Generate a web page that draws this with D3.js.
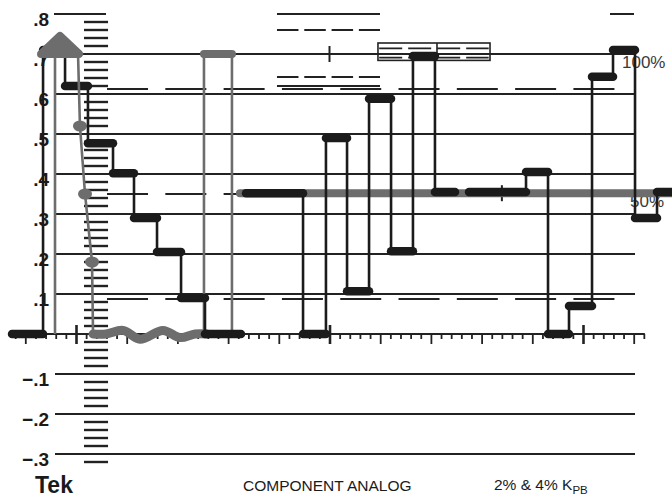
<!DOCTYPE html>
<html>
<head>
<meta charset="utf-8">
<script src="https://d3js.org/d3.v7.min.js"></script>
<style>
  body { margin: 0; background: #fff; }
  svg { display: block; font-family: "Liberation Sans", Arial, Helvetica, sans-serif; }
</style>
</head>
<body>
<div id="chart"></div>
<script>
    // graticule values (volts)
    const gridValues = [-0.3, -0.2, -0.1, 0.1, 0.2, 0.3, 0.4, 0.5, 0.6, 0.7];
    const labelValues = [-0.3, -0.2, -0.1, 0.1, 0.2, 0.3, 0.4, 0.5, 0.6, 0.7, 0.8];
    const dashedLevels = [0.6125, 0.35, 0.0875];
    const topSolid = [0.8, 0.62];
    const topDashed = [0.76, 0.6425];

    // black trace: [time, level], level null ends a run
    const blackSteps = [
        [-6.31, 0], [-3.25, 0.71], [-1.08, 0.62], [1.18, 0.477], [3.65, 0.402],
        [5.72, 0.29], [7.99, 0.205], [10.36, 0.09], [12.72, 0], [16.27, null],
        [16.77, 0.352], [22.39, 0], [24.65, 0.49], [26.73, 0.107], [28.9, 0.588],
        [31.07, 0.207], [33.23, 0.695], [35.4, 0.355], [37.38, null],
        [38.76, 0.355], [44.38, 0.405], [46.55, 0], [48.62, 0.07], [50.89, 0.643],
        [52.96, 0.71], [55.13, 0.29], [57.3, 0.355], [59.6, null]
    ];

    // gray trace pieces
    const grayPeak = [[-3.45, 0.70], [-1.58, 0.745], [0.3, 0.70]];
    const grayDrop = [[0.2, 0.70], [0.39, 0.52], [0.89, 0.35], [1.58, 0.18], [1.68, 0]];
    const grayDots = [[0.39, 0.52], [0.89, 0.35], [1.58, 0.18]];
    const grayWiggle = [[1.68, 0], [2.96, 0], [4.64, 0.009], [6.31, -0.013], [8.58, 0.009],
        [10.26, -0.009], [11.74, 0], [12.92, 0]];
    const grayVerts = [[-2.07, 0, 0.70], [12.62, 0, 0.70], [15.38, 0.70, 0]];
    const grayFlats = [[12.62, 15.38, 0.70], [16.17, 59.6, 0.352]];

    const width = 672, height = 497;
    const svg = d3.select("#chart").append("svg")
        .attr("width", width).attr("height", height);

    // 1 unit = one small tick
    const x = d3.scaleLinear().domain([0, 50]).range([76, 583]);
    const y = d3.scaleLinear().domain([0, 0.7]).range([334, 54]);

    const ink = "#222";
    const black = "#1b1b1b";
    const gray = "#6d6d6d";

    const grat = svg.append("g");

    // horizontal gridlines
    grat.selectAll(".grid").data(gridValues).enter().append("line")
        .attr("x1", x(-2.07)).attr("x2", x(55.13))
        .attr("y1", d => y(d)).attr("y2", d => y(d))
        .attr("stroke", ink).attr("stroke-width", 2.2);

    // short .8 line
    grat.append("line")
        .attr("x1", x(-2.17)).attr("x2", x(2.96))
        .attr("y1", y(0.8)).attr("y2", y(0.8))
        .attr("stroke", ink).attr("stroke-width", 2.2);

    // ladder every .02
    const ladder = d3.range(-16, 40).filter(k => k % 5 !== 0).map(k => k / 50);
    grat.selectAll(".ladder").data(ladder).enter().append("line")
        .attr("x1", x(0.79)).attr("x2", x(3.16))
        .attr("y1", d => y(d)).attr("y2", d => y(d))
        .attr("stroke", ink).attr("stroke-width", 2.4);

    // dashed tolerance lines
    grat.selectAll(".dash").data(dashedLevels).enter().append("line")
        .attr("x1", x(3.06)).attr("x2", x(53.25))
        .attr("y1", d => y(d)).attr("y2", d => y(d))
        .attr("stroke", ink).attr("stroke-width", 1.8)
        .attr("stroke-dasharray", "41 17.3");

    // top markers
    grat.selectAll(".tops").data(topSolid).enter().append("line")
        .attr("x1", x(19.82)).attr("x2", x(29.98))
        .attr("y1", d => y(d)).attr("y2", d => y(d))
        .attr("stroke", ink).attr("stroke-width", 2);
    grat.selectAll(".topd").data(topDashed).enter().append("line")
        .attr("x1", x(19.82)).attr("x2", x(29.98))
        .attr("y1", d => y(d)).attr("y2", d => y(d))
        .attr("stroke", ink).attr("stroke-width", 2)
        .attr("stroke-dasharray", "21.5 5.8");
    grat.append("line")
        .attr("x1", x(52.66)).attr("x2", x(55.03))
        .attr("y1", y(0.8)).attr("y2", y(0.8))
        .attr("stroke", ink).attr("stroke-width", 2);

    // box on the .7 line
    grat.append("rect")
        .attr("x", x(29.78)).attr("y", y(0.7275))
        .attr("width", x(40.83) - x(29.78)).attr("height", y(0.684) - y(0.7275))
        .attr("fill", "none").attr("stroke", ink).attr("stroke-width", 1.6);
    grat.append("line")
        .attr("x1", x(35.6)).attr("x2", x(35.6))
        .attr("y1", y(0.7275)).attr("y2", y(0.684))
        .attr("stroke", ink).attr("stroke-width", 1.6);
    grat.selectAll(".boxd").data([0.714, 0.691]).enter().append("line")
        .attr("x1", x(29.9)).attr("x2", x(40.7))
        .attr("y1", d => y(d)).attr("y2", d => y(d))
        .attr("stroke", ink).attr("stroke-width", 1.6)
        .attr("stroke-dasharray", "23 6");

    // cross ticks on .7 and 50% lines
    grat.selectAll(".cross").data([[25, 0.7], [42, 0.352]]).enter().append("line")
        .attr("x1", d => x(d[0])).attr("x2", d => x(d[0]))
        .attr("y1", d => y(d[1]) - 8).attr("y2", d => y(d[1]) + 8)
        .attr("stroke", ink).attr("stroke-width", 2);

    // zero line with time ticks
    grat.append("line")
        .attr("x1", x(-6.5)).attr("x2", x(56.1))
        .attr("y1", y(0)).attr("y2", y(0))
        .attr("stroke", ink).attr("stroke-width", 2.2);
    const xAxis = grat.append("g")
        .attr("transform", "translate(0," + y(0) + ")")
        .call(d3.axisBottom(x).tickValues(d3.range(-6, 57)).tickFormat("").tickSize(5).tickSizeOuter(0));
    xAxis.select(".domain").remove();
    xAxis.selectAll(".tick line")
        .attr("stroke", ink).attr("stroke-width", 1.8)
        .attr("y1", d => d % 25 === 0 ? -9 : 0)
        .attr("y2", d => d % 25 === 0 ? 10 : (d % 5 === 0 ? 10 : 5))
        .attr("stroke-width", d => d % 25 === 0 ? 2.6 : 1.8);

    // y labels
    const fmt = d => (d < 0 ? "\u2212" : "") + "." + Math.round(Math.abs(d) * 10);
    const yAxis = grat.append("g")
        .attr("transform", "translate(55,0)")
        .call(d3.axisLeft(y).tickValues(labelValues).tickFormat(fmt).tickSize(0).tickPadding(6));
    yAxis.select(".domain").remove();
    yAxis.selectAll("text")
        .attr("dy", "0.6em")
        .attr("fill", "#1a1a1a")
        .style("font-family", "'Liberation Sans', Arial, sans-serif")
        .style("font-size", "19px").style("font-weight", "bold");

    // percent labels
    grat.append("text").attr("x", 622).attr("y", 68).text("100%")
        .attr("font-size", 17).attr("fill", "#3a3a3a");
    grat.append("text").attr("x", 630).attr("y", 207).text("50%")
        .attr("font-size", 17).attr("fill", "#3a3a3a");

    // gray trace (behind black)
    const gTr = svg.append("g");
    gTr.selectAll(".gflat").data(grayFlats).enter().append("line")
        .attr("x1", d => x(d[0])).attr("x2", d => x(d[1]))
        .attr("y1", d => y(d[2])).attr("y2", d => y(d[2]))
        .attr("stroke", gray).attr("stroke-width", 8).attr("stroke-linecap", "round");
    gTr.selectAll(".gvert").data(grayVerts).enter().append("line")
        .attr("x1", d => x(d[0])).attr("x2", d => x(d[0]))
        .attr("y1", d => y(d[1])).attr("y2", d => y(d[2]))
        .attr("stroke", gray).attr("stroke-width", 2.6);
    gTr.append("path")
        .attr("d", d3.line().x(d => x(d[0])).y(d => y(d[1])).curve(d3.curveCatmullRom)(grayWiggle))
        .attr("fill", "none").attr("stroke", gray).attr("stroke-width", 9)
        .attr("stroke-linecap", "round").attr("stroke-linejoin", "round");

    // black trace
    const bTr = svg.append("g");
    blackSteps.forEach((s, i) => {
        const nxt = blackSteps[i + 1];
        const prv = blackSteps[i - 1];
        if (s[1] !== null && prv && prv[1] !== null) {
            bTr.append("line")
                .attr("x1", x(s[0])).attr("x2", x(s[0]))
                .attr("y1", y(prv[1])).attr("y2", y(s[1]))
                .attr("stroke", black).attr("stroke-width", 2.6);
        }
    });
    blackSteps.forEach((s, i) => {
        const nxt = blackSteps[i + 1];
        if (s[1] !== null && nxt) {
            bTr.append("line")
                .attr("x1", x(s[0])).attr("x2", x(nxt[0]))
                .attr("y1", y(s[1])).attr("y2", y(s[1]))
                .attr("stroke", black).attr("stroke-width", 8.5).attr("stroke-linecap", "round");
        }
    });

    // gray on top: overshoot peak and falling edge
    const gTop = svg.append("g");
    gTop.append("path")
        .attr("d", d3.line().x(d => x(d[0])).y(d => y(d[1]))(grayPeak) + "Z")
        .attr("fill", gray).attr("stroke", gray).attr("stroke-width", 8)
        .attr("stroke-linejoin", "round").attr("stroke-linecap", "round");
    gTop.append("path")
        .attr("d", d3.line().x(d => x(d[0])).y(d => y(d[1]))(grayDrop))
        .attr("fill", "none").attr("stroke", gray).attr("stroke-width", 2.6);
    gTop.selectAll(".gdot").data(grayDots).enter().append("ellipse")
        .attr("cx", d => x(d[0])).attr("cy", d => y(d[1]))
        .attr("rx", 7).attr("ry", 5.5).attr("fill", gray);

    // footer
    svg.append("text").attr("x", 35).attr("y", 493).text("Tek")
        .attr("font-size", 23).attr("font-weight", "bold").attr("fill", "#1a1a1a");
    svg.append("text").attr("x", 243).attr("y", 491).text("COMPONENT ANALOG")
        .attr("font-size", 15.5).attr("fill", "#1a1a1a");
    const kpb = svg.append("text").attr("x", 494).attr("y", 490)
        .attr("font-size", 15.5).attr("fill", "#1a1a1a");
    kpb.append("tspan").text("2% & 4% K");
    kpb.append("tspan").attr("dy", 4).attr("font-size", 11.5).text("PB");
</script>
</body>
</html>
